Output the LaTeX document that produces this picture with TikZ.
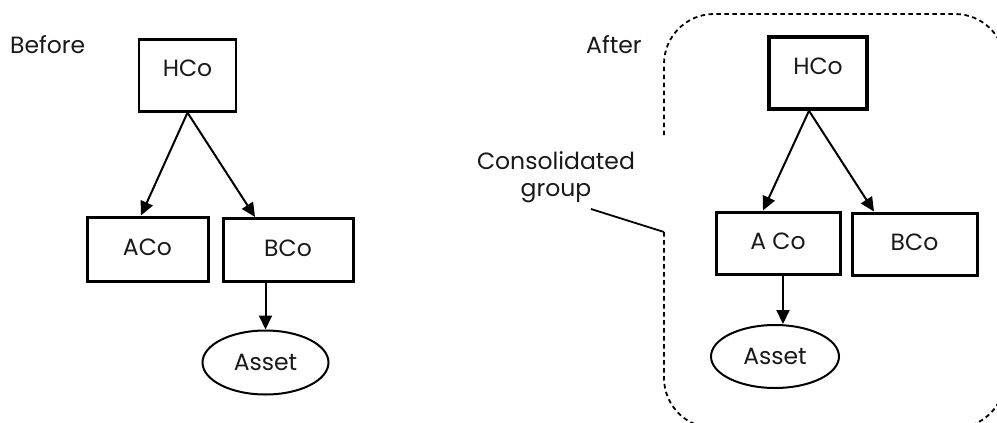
\documentclass[tikz,border=0pt]{standalone}
\usepackage{fontspec}
\setmainfont{Poppins}
\usetikzlibrary{arrows.meta,shapes.geometric}
\begin{document}
\begin{tikzpicture}[x=1pt,y=-1pt,
  txt/.style={font=\fontsize{23.5}{27}\selectfont, text=black!90, inner sep=0pt},
  box/.style={txt, draw, line width=2pt, anchor=center},
  ellip/.style={txt, draw, ellipse, line width=2pt, minimum width=126pt, minimum height=64pt},
  arr/.style={line width=2pt, -{Triangle[length=14pt,width=13pt]}},
  grp/.style={line width=1.8pt, dash pattern=on 4.5pt off 3.5pt, rounded corners=50pt}]
\useasboundingbox (0,0) rectangle (997,423);
\clip (0,0) rectangle (997,423);
% Before
\node[txt, anchor=west] (lb) at (10,45) {Before};
\node[box, minimum width=97pt, minimum height=72pt, line width=2.2pt] (H1) at (187.5,75.5) {\raisebox{14pt}{HCo}};
\node[box, minimum width=121pt, minimum height=64pt, line width=3pt] (A1) at (147.5,249) {\raisebox{3pt}{ACo}};
\node[box, minimum width=130pt, minimum height=63pt, line width=3pt] (B1) at (288,250) {\raisebox{3pt}{BCo}};
\node[ellip] (S1) at (265.5,362.5) {Asset};
\draw[arr] (H1.south) -- ([xshift=-6.5pt]A1.north);
\draw[arr] (H1.south) -- ([xshift=-33pt]B1.north);
\draw[arr] (B1.south -| S1.north) -- (S1.north);
% After
\node[txt, anchor=west] (la) at (586,45) {After};
\node[box, minimum width=98pt, minimum height=72pt, line width=3.5pt] (H2) at (818,73) {\raisebox{14pt}{HCo}};
\node[box, minimum width=124pt, minimum height=62pt, line width=3pt] (A2) at (778,243) {\raisebox{3pt}{A Co}};
\node[box, minimum width=125pt, minimum height=62pt, line width=3pt] (B2) at (914.5,244) {\raisebox{3pt}{BCo}};
\node[ellip, minimum width=128pt, minimum height=63pt] (S2) at (775,356.5) {Asset};
\draw[arr] ([xshift=-9pt]H2.south) -- ([xshift=-15pt]A2.north);
\draw[arr] ([xshift=-9pt]H2.south) -- ([xshift=-40.5pt]B2.north);
\coordinate (c1) at (783,274);
\draw[arr] (c1) -- (c1 |- S2.north);
% consolidated group boundary
\coordinate (g1) at (664,135);
\coordinate (g2) at (664,232);
\draw[grp] (g1) -- (664,14) -- (1005,14) -- (1005,428) -- (960,428);
\draw[grp] (g2) -- (664,428) -- (800,428);
\node[txt, align=center] (lg) at (556,177) {Consolidated\\group};
\coordinate (lgc) at (591,209);
\draw[line width=1.8pt] (lgc) -- (g2);
\end{tikzpicture}
\end{document}
